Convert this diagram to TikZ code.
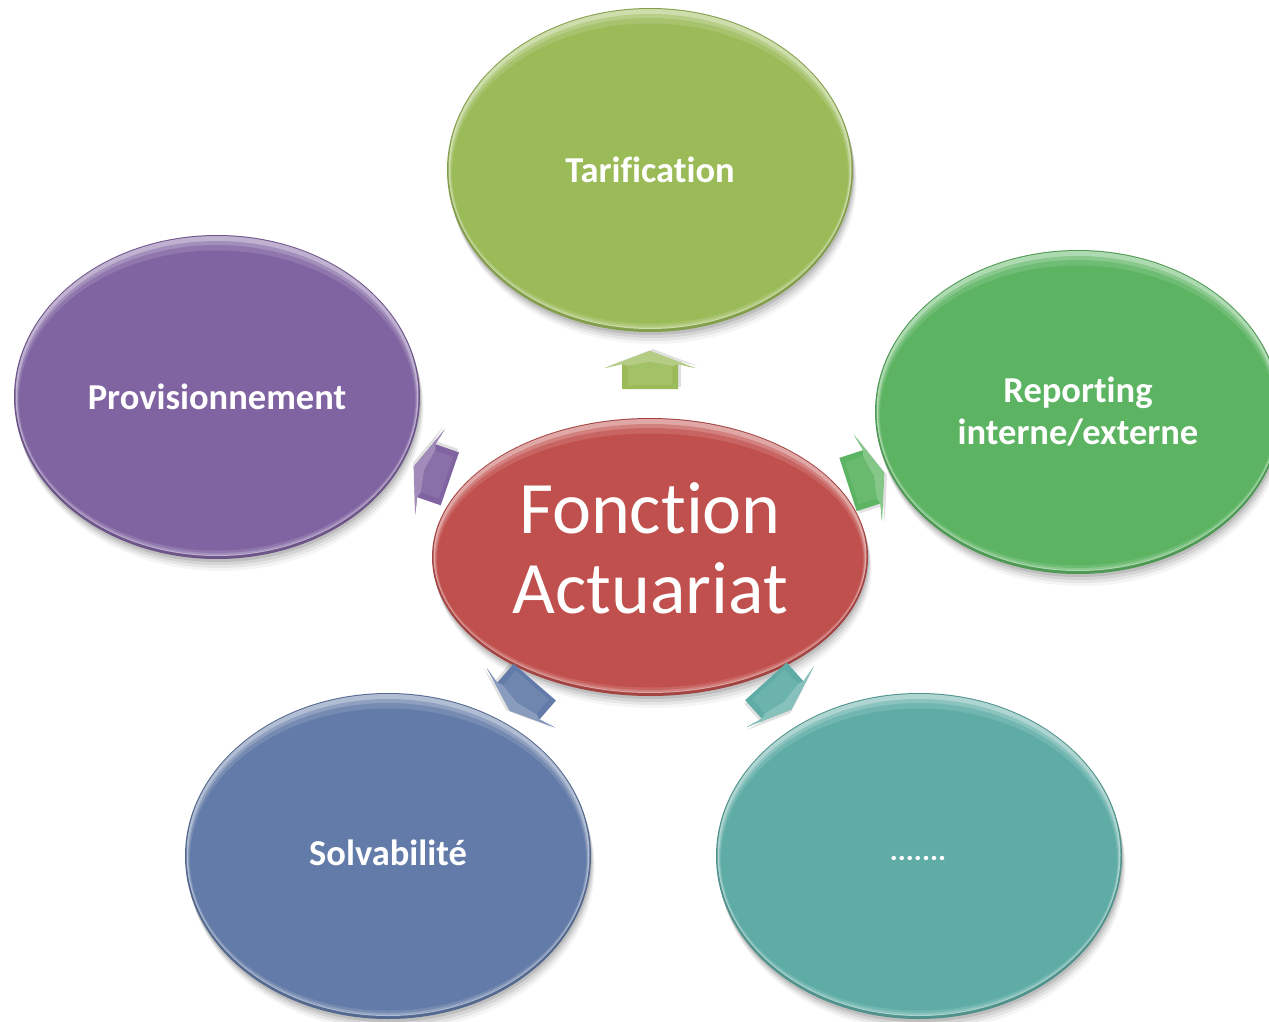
\documentclass[tikz,border=0pt]{standalone}
\usepackage{fontspec}
\setmainfont{Carlito}[Ligatures={NoCommon,NoRequired,NoContextual}]
\definecolor{cOlive}{RGB}{155,187,89}
\definecolor{cPurple}{RGB}{128,100,162}
\definecolor{cGreen}{RGB}{92,180,98}
\definecolor{cRed}{RGB}{192,80,77}
\definecolor{cBlue}{RGB}{99,123,168}
\definecolor{cTeal}{RGB}{94,172,165}
\newcommand{\bubble}[5]{%
  \foreach \s/\o in {3/0.10,6/0.08,9/0.06,12/0.04}{%
    \fill[black,opacity=\o] (#1+\s*0.3,#2+\s) ellipse [x radius=#3pt, y radius=#4pt];}
  \fill[#5!85!black] (#1,#2) ellipse [x radius=#3pt, y radius=#4pt];
  \fill[#5!50!white] (#1,#2-1) ellipse [x radius={#3pt-1.5pt}, y radius={#4pt-2pt}];
  \fill[#5!72!white] (#1,#2+1) ellipse [x radius={#3pt-3pt}, y radius={#4pt-5pt}];
  \fill[#5!88!white] (#1,#2+2) ellipse [x radius={#3pt-4pt}, y radius={#4pt-8pt}];
  \fill[#5] (#1,#2+3.5) ellipse [x radius={#3pt-5pt}, y radius={#4pt-12pt}];
}
\newcommand{\blockarrow}[4]{%
  \begin{scope}[shift={(#1,#2)},rotate=#3]
    \fill[black,opacity=0.12,shift={(2pt,-3pt)}] (17pt,0pt) -- (0pt,45pt) -- (4pt,28pt) -- (-21pt,28pt) -- (-21pt,-28pt) -- (4pt,-28pt) -- (0pt,-45pt) -- cycle;
    \fill[#4] (17pt,0pt) -- (0pt,45pt) -- (4pt,28pt) -- (-21pt,28pt) -- (-21pt,-28pt) -- (4pt,-28pt) -- (0pt,-45pt) -- cycle;
    \fill[#4!75!white] (17pt,0pt) -- (0pt,45pt) -- (4pt,28pt) -- (2pt,22pt) -- (6pt,0pt) -- (2pt,-22pt) -- (4pt,-28pt) -- (0pt,-45pt) -- cycle;
    \fill[#4!92!white] (2pt,22pt) -- (6pt,0pt) -- (2pt,-22pt) -- (-17pt,-22pt) -- (-17pt,22pt) -- cycle;
  \end{scope}}
\tikzset{
  lbl/.style={text=white,font=\bfseries\fontsize{36.5}{42}\selectfont,align=center},
  bigl/.style={text=white,font=\fontsize{74}{80}\selectfont,align=center}
}
\begin{document}
\begin{tikzpicture}[x=1pt,y=-1pt]
\useasboundingbox (0,0) rectangle (1269,1022);
\clip (0,0) rectangle (1269,1022);
\fill[white] (0,0) rectangle (1269,1022);
% outer bubbles
\bubble{650}{170}{203}{162}{cOlive}
\bubble{217}{397}{203}{162}{cPurple}
\bubble{1078}{412}{203}{162}{cGreen}
\bubble{388}{856}{203}{163}{cBlue}
\bubble{919}{856}{203}{163}{cTeal}
% centre
\bubble{650}{557}{218}{139}{cRed}
% arrows
\blockarrow{650}{368}{90}{cOlive}
\blockarrow{430}{472}{161}{cPurple}
\blockarrow{868}{478}{18}{cGreen}
\blockarrow{521}{698}{229}{cBlue}
\blockarrow{780}{697}{-48}{cTeal}
% labels
\node[lbl] (tar) at (650,170) {Tarification};
\node[lbl] (pro) at (217,397) {Provisionnement};
\node[lbl] (rep) at (1078,412) {Reporting\\interne/externe};
\node[lbl] (sol) at (388,853) {Solvabilité};
\node[lbl,font=\bfseries\fontsize{30}{36}\selectfont] (etc) at (918,858) {.......};
\node[bigl] (fa) at (650,548) {Fonction\\Actuariat};
\end{tikzpicture}
\end{document}
